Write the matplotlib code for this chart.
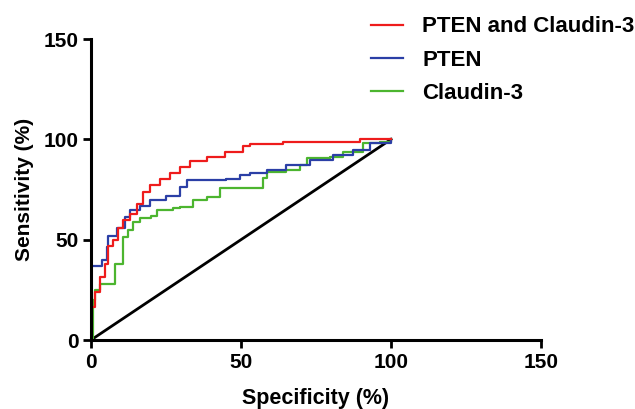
import matplotlib
matplotlib.use('Agg')
import matplotlib.pyplot as plt

plt.rcParams['font.family'] = ['Liberation Sans', 'DejaVu Sans']
plt.rcParams['font.weight'] = 'bold'

# ROC curves
combo_x = [0, 0, 1.3, 3, 4.7, 5.8, 7.4, 9, 10.8, 13, 15.2, 17.4, 19.7, 23, 26.3, 29.7, 33,
           38.7, 44.7, 50.7, 53, 64, 89.7, 100]
combo_y = [0, 16.6, 24, 31.5, 38, 47, 50, 56, 60, 63, 68, 74, 77, 80, 83, 86, 89,
           91, 93.6, 96.7, 97.6, 98.8, 100, 100]

pten_x = [0, 0, 3.6, 5.2, 5.8, 8.6, 11.3, 13, 16.3, 19.7, 25, 29.7, 32, 45, 49.7, 53,
          58.6, 65, 73, 80.7, 87.4, 93, 100]
pten_y = [0, 37, 40, 46.5, 52, 56, 61.4, 64.8, 67, 70, 72, 76.4, 79.7, 80, 82, 83,
          84.7, 87, 89.7, 92, 94.6, 98, 100]

cld_x = [0, 0.7, 1.3, 3, 8, 10.8, 12.4, 14, 16.3, 20, 22, 27.4, 29.7, 34, 38.6, 43,
         57.4, 58.6, 65, 69.7, 72, 79.7, 84, 90.7, 96.3, 100]
cld_y = [0, 20, 25, 28, 38, 51.5, 55, 59, 61, 62, 65, 65.8, 66.5, 70, 71.5, 75.7,
         80.6, 83.7, 84.7, 87, 90.6, 91, 93.6, 98, 98.7, 100]

ref_x = [0, 100]
ref_y = [0, 100]

fig = plt.figure(figsize=(6.35, 4.09), dpi=100)
ax = fig.add_axes([0.1433, 0.1687, 0.7087, 0.7359])

ax.plot(ref_x, ref_y, color='black', lw=2.0)
ax.plot(cld_x, cld_y, color='#4cb52f', lw=1.6, drawstyle='steps-post', label='Claudin-3')
ax.plot(pten_x, pten_y, color='#2b3fa6', lw=1.6, drawstyle='steps-post', label='PTEN')
ax.plot(combo_x, combo_y, color='#ee1c1c', lw=1.6, drawstyle='steps-post', label='PTEN and Claudin-3')

ax.set_xlim(0, 150)
ax.set_ylim(0, 150)
ax.set_xticks([0, 50, 100, 150])
ax.set_yticks([0, 50, 100, 150])
for s in ['top', 'right']:
    ax.spines[s].set_visible(False)
for s in ['left', 'bottom']:
    ax.spines[s].set_linewidth(2.2)
ax.tick_params(width=2.0, length=6, labelsize=15, pad=3)
ax.set_xlabel('Specificity (%)', fontsize=15.5, fontweight='bold', labelpad=12)
ax.set_ylabel('Sensitivity (%)', fontsize=15, fontweight='bold', labelpad=7)

handles, labels = ax.get_legend_handles_labels()
fig.legend(handles[::-1], labels[::-1], loc='upper left', bbox_to_anchor=(0.553, 1.009),
           frameon=False, handlelength=1.45, handletextpad=0.85,
           labelspacing=0.55, prop={'weight': 'bold', 'size': 16})

fig.savefig('out.png', dpi=100)
